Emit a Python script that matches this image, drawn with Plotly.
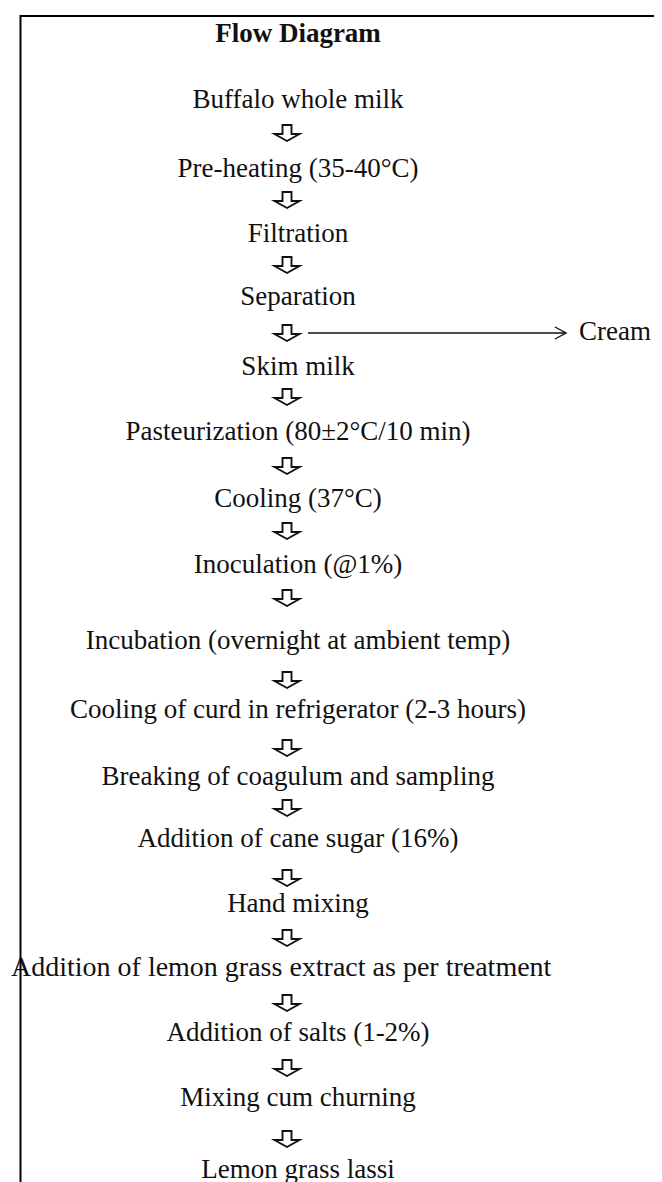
import plotly.graph_objects as go

# ---- content ----
title = "Flow Diagram"
steps = [
    "Buffalo whole milk",
    "Pre-heating (35-40°C)",
    "Filtration",
    "Separation",
    "Skim milk",
    "Pasteurization (80±2°C/10 min)",
    "Cooling (37°C)",
    "Inoculation (@1%)",
    "Incubation (overnight at ambient temp)",
    "Cooling of curd in refrigerator (2-3 hours)",
    "Breaking of coagulum and sampling",
    "Addition of cane sugar (16%)",
    "Hand mixing",
    "Addition of lemon grass extract as per treatment",
    "Addition of salts (1-2%)",
    "Mixing cum churning",
    "Lemon grass lassi",
]
side_output = "Cream"
side_from_step = "Separation"

# ---- layout (pixel positions on a 662 x 1182 canvas) ----
W, H = 662, 1182
step_y = [93, 162, 227, 290, 360, 425, 492, 558, 634, 703, 770, 832, 897, 961, 1026, 1091, 1163]
arrow_y = [125, 192, 257, 325, 389, 458, 523, 590, 672, 740, 800, 870, 930, 995, 1060, 1131]
text_cx = 290
arrow_cx = 279
title_y = 27
FONT = "Liberation Serif, Times New Roman, serif"
FS = 27

xs, pos, sizes = [], [], []
for s in steps:
    if s.startswith("Addition of lemon"):
        xs.append(3)
        pos.append("middle right")
        sizes.append(28)
    else:
        xs.append(text_cx)
        pos.append("middle center")
        sizes.append(FS)

fig = go.Figure()
fig.add_trace(go.Scatter(
    x=xs, y=step_y, text=steps, mode="text", textposition=pos,
    textfont=dict(family=FONT, size=sizes, color="#111111"),
    hoverinfo="skip", showlegend=False))

fig.add_trace(go.Scatter(
    x=[text_cx], y=[title_y], text=["<b>" + title + "</b>"], mode="text",
    textposition="middle center",
    textfont=dict(family=FONT, size=FS, color="#111111"),
    hoverinfo="skip", showlegend=False))

shapes = []


def down_arrow(cx, cy):
    sw, hw = 4.5, 12.5
    top, mid, bot = cy - 8, cy + 1, cy + 8
    p = (f"M {cx-sw},{top} L {cx+sw},{top} L {cx+sw},{mid} L {cx+hw},{mid} "
         f"L {cx},{bot} L {cx-hw},{mid} L {cx-sw},{mid} Z")
    return dict(type="path", path=p, xref="x", yref="y",
                line=dict(color="#111111", width=1.9), fillcolor="rgba(0,0,0,0)")


for ay in arrow_y:
    shapes.append(down_arrow(arrow_cx, ay))

# side branch to Cream
si = steps.index(side_from_step)
by = arrow_y[si]
x0, x1 = 300, 558
shapes.append(dict(type="line", x0=x0, x1=x1, y0=by, y1=by, xref="x", yref="y",
                   line=dict(color="#111111", width=1.4)))
shapes.append(dict(type="path", path=f"M {x1-11},{by-6} L {x1},{by} L {x1-11},{by+6}",
                   xref="x", yref="y", line=dict(color="#111111", width=1.4)))
fig.add_trace(go.Scatter(
    x=[571], y=[by], text=[side_output], mode="text", textposition="middle right",
    textfont=dict(family=FONT, size=FS, color="#111111"),
    hoverinfo="skip", showlegend=False))

# frame
shapes.append(dict(type="line", x0=12, x1=657, y0=8, y1=8, xref="x", yref="y",
                   line=dict(color="black", width=2)))
shapes.append(dict(type="line", x0=12.5, x1=12.5, y0=7, y1=H, xref="x", yref="y",
                   line=dict(color="black", width=2)))
shapes.append(dict(type="line", x0=656, x1=656, y0=7, y1=H, xref="x", yref="y",
                   line=dict(color="black", width=3)))

fig.update_layout(
    width=W, height=H, margin=dict(l=0, r=0, t=0, b=0),
    paper_bgcolor="white", plot_bgcolor="white", showlegend=False,
    xaxis=dict(range=[0, W], visible=False, fixedrange=True),
    yaxis=dict(range=[H, 0], visible=False, fixedrange=True),
    shapes=shapes,
)

fig.write_html("out.html", config={"displayModeBar": False, "staticPlot": True})
